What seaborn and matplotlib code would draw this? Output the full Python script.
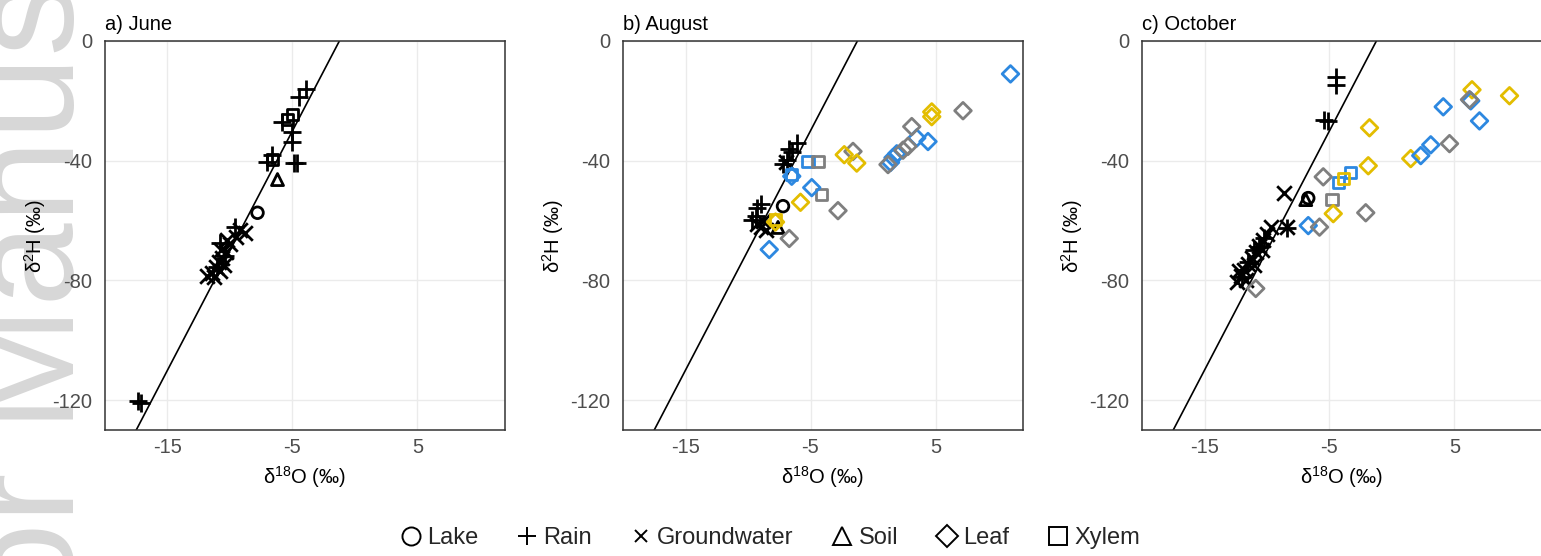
import matplotlib
matplotlib.use("Agg")
import matplotlib.pyplot as plt
import seaborn as sns
import pandas as pd
from matplotlib.lines import Line2D

# ---------------- data ----------------
PANEL_TITLES = ["a) June", "b) August", "c) October"]
X_TICKS = [-15, -5, 5]
Y_TICKS = [0, -40, -80, -120]
X_LIM = (-20, 12)
Y_LIM = (-130, 0)
GMWL_SLOPE = 8.0
GMWL_INTERCEPT = 10.0

SAMPLE_TYPES = ["Lake", "Rain", "Groundwater", "Soil", "Leaf", "Xylem"]
GROUP_COLORS = {"water": "#000000", "grey": "#7F7F7F", "gold": "#E3BD00", "blue": "#2D88E0"}

# June
jun_type = (["Rain"] * 15 + ["Xylem"] * 3 + ["Soil"] + ["Lake"] + ["Groundwater"] * 15)
jun_group = ["water"] * 35
jun_d18O = [-3.9, -4.5, -5.8, -5.0, -5.0, -6.6, -7.0, -4.9, -4.6, -9.6, -10.8, -10.4, -11.0, -17.4, -17.1,
            -5.4, -5.0, -6.6,
            -6.2,
            -7.8,
            -8.8, -9.2, -9.5, -10.0, -10.3, -10.6, -10.9, -10.5, -11.1, -10.8, -11.4, -11.8, -10.2, -10.7, -11.3]
jun_d2H = [-16.0, -18.7, -27.0, -30.3, -33.7, -38.0, -40.5, -40.7, -40.9, -62.0, -67.5, -72.0, -75.5, -120.2, -121.0,
           -26.3, -24.5, -39.7,
           -46.3,
           -57.4,
           -64.0, -63.0, -65.5, -68.0, -70.5, -72.5, -74.0, -75.0, -75.5, -77.0, -77.5, -78.7, -66.5, -70.0, -79.0]

# August
aug_type = (["Rain"] * 9 + ["Groundwater"] * 5 + ["Lake"] + ["Soil"] + ["Xylem"] * 5 + ["Leaf"] * 23)
aug_group = (["water"] * 16 + ["blue", "grey", "blue", "grey", "gold"] +
             ["blue", "grey", "gold", "gold", "grey", "blue", "blue", "grey", "grey", "blue", "blue", "blue",
              "grey", "grey", "gold", "gold", "blue", "blue", "gold", "grey", "gold", "grey", "blue"])
aug_d18O = [-6.1, -6.5, -6.9, -7.2, -6.7, -9.0, -9.3, -9.4, -9.7,
            -9.0, -8.6, -8.8, -9.3, -7.0,
            -7.2,
            -7.6,
            -5.2, -4.4, -6.5, -4.1, -7.8,
            11.0, 7.2, 4.7, 4.7, 3.1, 3.5, 4.4, 2.8, 2.4, 1.9, 1.6, 1.4,
            1.2, -1.6, -2.3, -1.3, -6.5, -4.9, -5.8, -2.8, -7.8, -6.7, -8.3]
aug_d2H = [-34.0, -37.0, -39.7, -41.0, -36.0, -54.5, -55.8, -58.6, -59.7,
           -62.0, -63.0, -60.0, -61.0, -40.5,
           -55.2,
           -62.3,
           -40.2, -40.3, -44.5, -51.3, -59.7,
           -11.0, -23.3, -23.7, -25.3, -28.6, -32.4, -33.6, -35.2, -36.5, -37.7, -39.0, -40.6,
           -41.3, -36.9, -38.0, -40.8, -45.2, -49.0, -53.9, -56.7, -60.5, -66.0, -69.7]

# October
oct_type = (["Rain"] * 10 + ["Groundwater"] * 16 + ["Lake"] + ["Soil"] + ["Xylem"] * 4 + ["Leaf"] * 18)
oct_group = (["water"] * 28 + ["blue", "blue", "gold", "grey"] +
             ["gold", "gold", "blue", "grey", "blue", "blue", "gold", "grey", "blue", "blue", "gold",
              "gold", "grey", "gold", "grey", "blue", "grey", "grey"])
oct_d18O = [-4.5, -4.5, -5.4, -5.1, -8.4, -11.0, -10.2, -12.0, -11.5, -10.6,
            -8.6, -8.4, -9.7, -10.0, -10.3, -10.6, -10.9, -11.2, -11.5, -11.8, -12.1, -12.4, -11.0, -10.4, -11.7, -12.2,
            -6.7,
            -6.9,
            -3.3, -4.3, -3.9, -4.8,
            6.4, 9.4, 6.3, 6.2, 4.1, 7.0, -1.8, 4.6, 3.1, 2.3, 1.5,
            -1.9, -5.5, -4.7, -2.1, -6.7, -5.8, -10.9]
oct_d2H = [-12.0, -14.7, -26.3, -26.8, -62.5, -70.0, -66.0, -79.0, -74.0, -69.0,
           -50.7, -62.3, -62.0, -64.5, -66.5, -68.5, -70.5, -72.5, -74.5, -76.5, -78.5, -80.7, -75.0, -70.0, -80.0, -77.0,
           -52.5,
           -53.0,
           -44.0, -47.2, -46.0, -53.0,
           -16.3, -18.3, -20.0, -19.6, -22.0, -26.7, -29.0, -34.3, -34.7, -38.3, -39.3,
           -41.7, -45.4, -57.7, -57.4, -61.7, -62.2, -82.7]

MONTHS = [
    (jun_type, jun_group, jun_d18O, jun_d2H),
    (aug_type, aug_group, aug_d18O, aug_d2H),
    (oct_type, oct_group, oct_d18O, oct_d2H),
]

# ---------------- styling ----------------
MARKERS = {"Lake": "o", "Rain": "+", "Groundwater": "x", "Soil": "^", "Leaf": "D", "Xylem": "s"}
SIZES = {"Lake": 70, "Rain": 160, "Groundwater": 110, "Soil": 75, "Leaf": 72, "Xylem": 64}
FILLED = {"Lake", "Soil", "Leaf", "Xylem"}

sns.set_theme(style="white")
plt.rcParams["font.family"] = ["Liberation Sans", "DejaVu Sans"]
plt.rcParams["mathtext.fontset"] = "custom"
plt.rcParams["mathtext.rm"] = "Liberation Sans"
plt.rcParams["mathtext.default"] = "regular"
plt.rcParams["axes.unicode_minus"] = False

W, H = 1541, 556
fig = plt.figure(figsize=(W / 100, H / 100), dpi=100)
fig.patch.set_facecolor("white")

# watermark
fig.text(74 / W, 1 - 914 / H, "Author Manuscript", rotation=90, rotation_mode="anchor",
         ha="left", va="baseline", fontsize=108, color="#d7d7d7", zorder=-10)

AX_LEFTS = [105, 623, 1142]
AX_TOP, AX_BOT, AX_W = 41, 430, 400

for i, (mtype, mgroup, mO, mH) in enumerate(MONTHS):
    ax = fig.add_axes([AX_LEFTS[i] / W, 1 - AX_BOT / H, AX_W / W, (AX_BOT - AX_TOP) / H])
    df = pd.DataFrame({"type": mtype, "group": mgroup, "d18O": mO, "d2H": mH})
    ax.set_facecolor("white")
    ax.grid(True, color="#ebebeb", lw=1.0)
    ax.set_axisbelow(True)
    ax.axline((0, GMWL_INTERCEPT), slope=GMWL_SLOPE, color="black", lw=1.2, zorder=2)
    for (t, g), sub in df.groupby(["type", "group"], sort=False):
        col = GROUP_COLORS[g]
        kw = dict(marker=MARKERS[t], s=SIZES[t], linewidth=2.0, zorder=3)
        if t in FILLED:
            kw.update(facecolors="none", edgecolor=col, color=col)
        else:
            kw.update(color=col)
        sns.scatterplot(data=sub, x="d18O", y="d2H", ax=ax, legend=False, **kw)
    ax.set_xlim(*X_LIM)
    ax.set_ylim(*Y_LIM)
    ax.set_xticks(X_TICKS)
    ax.set_yticks(Y_TICKS)
    ax.tick_params(axis="both", which="major", direction="out", length=3, width=1,
                   color="#333333", labelcolor="#4d4d4d", labelsize=14.5)
    ax.tick_params(axis="x", pad=3)
    ax.tick_params(axis="y", pad=6)
    for sp in ax.spines.values():
        sp.set_color("#333333")
        sp.set_linewidth(1.1)
    ax.set_xlabel("δ$^{18}$O (‰)", fontsize=14.5, color="black", labelpad=5)
    ax.set_ylabel("δ$^{2}$H (‰)", fontsize=14.5, color="black", labelpad=3)
    ax.set_title(PANEL_TITLES[i], loc="left", fontsize=14.5, color="black", pad=8)

handles = []
for t in SAMPLE_TYPES:
    m = MARKERS[t]
    if t in FILLED:
        h = Line2D([], [], marker=m, linestyle="none", markerfacecolor="none",
                   markeredgecolor="black", markersize=13 if t != "Leaf" else 11, markeredgewidth=1.4)
    else:
        h = Line2D([], [], marker=m, linestyle="none", color="black",
                   markersize=13 if t == "Rain" else 9, markeredgewidth=1.4)
    handles.append(h)
fig.legend(handles, SAMPLE_TYPES, loc="center", bbox_to_anchor=(770 / W, 1 - 538 / H), ncol=6,
           frameon=False, fontsize=17, handlelength=0.9, handletextpad=0.25, columnspacing=1.6)

fig.savefig("out.png", dpi=100, facecolor="white")
